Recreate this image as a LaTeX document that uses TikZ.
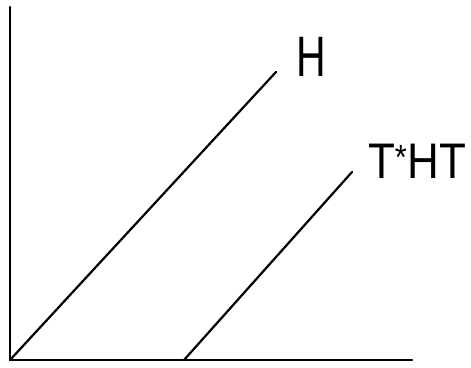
\documentclass[tikz,border=0pt]{standalone}
\usepackage{fontspec}
\setmainfont{Liberation Sans}
\usetikzlibrary{positioning}

\tikzset{
  axis/.style={line width=2.2pt, line cap=round},
  curve/.style={line width=2.2pt, line cap=round},
  lbl/.style={inner sep=0pt}
}

\begin{document}
\begin{tikzpicture}[x=1pt, y=1pt]
  \useasboundingbox (0,0) rectangle (471,367);

  % axes
  \coordinate (origin) at (10,7);
  \coordinate (ytop) at (10,360);
  \coordinate (xend) at (412,7);
  \draw[axis] (ytop) -- (origin) -- (xend);

  % the two lines
  \coordinate (hend) at (276,295);
  \coordinate (tstart) at (184,7);
  \coordinate (tend) at (352,195);
  \draw[curve] (origin) -- (hend);
  \draw[curve] (tstart) -- (tend);

  % labels
  \node[lbl, font=\fontsize{57}{57}\selectfont] (hlabel) at (311,310) {\scalebox{0.72}[1]{H}};
  \node[lbl, font=\fontsize{50}{50}\selectfont] (tlabel) at (417,206) {\scalebox{0.88}[1]{T\textsuperscript{*}HT}};
\end{tikzpicture}
\end{document}
